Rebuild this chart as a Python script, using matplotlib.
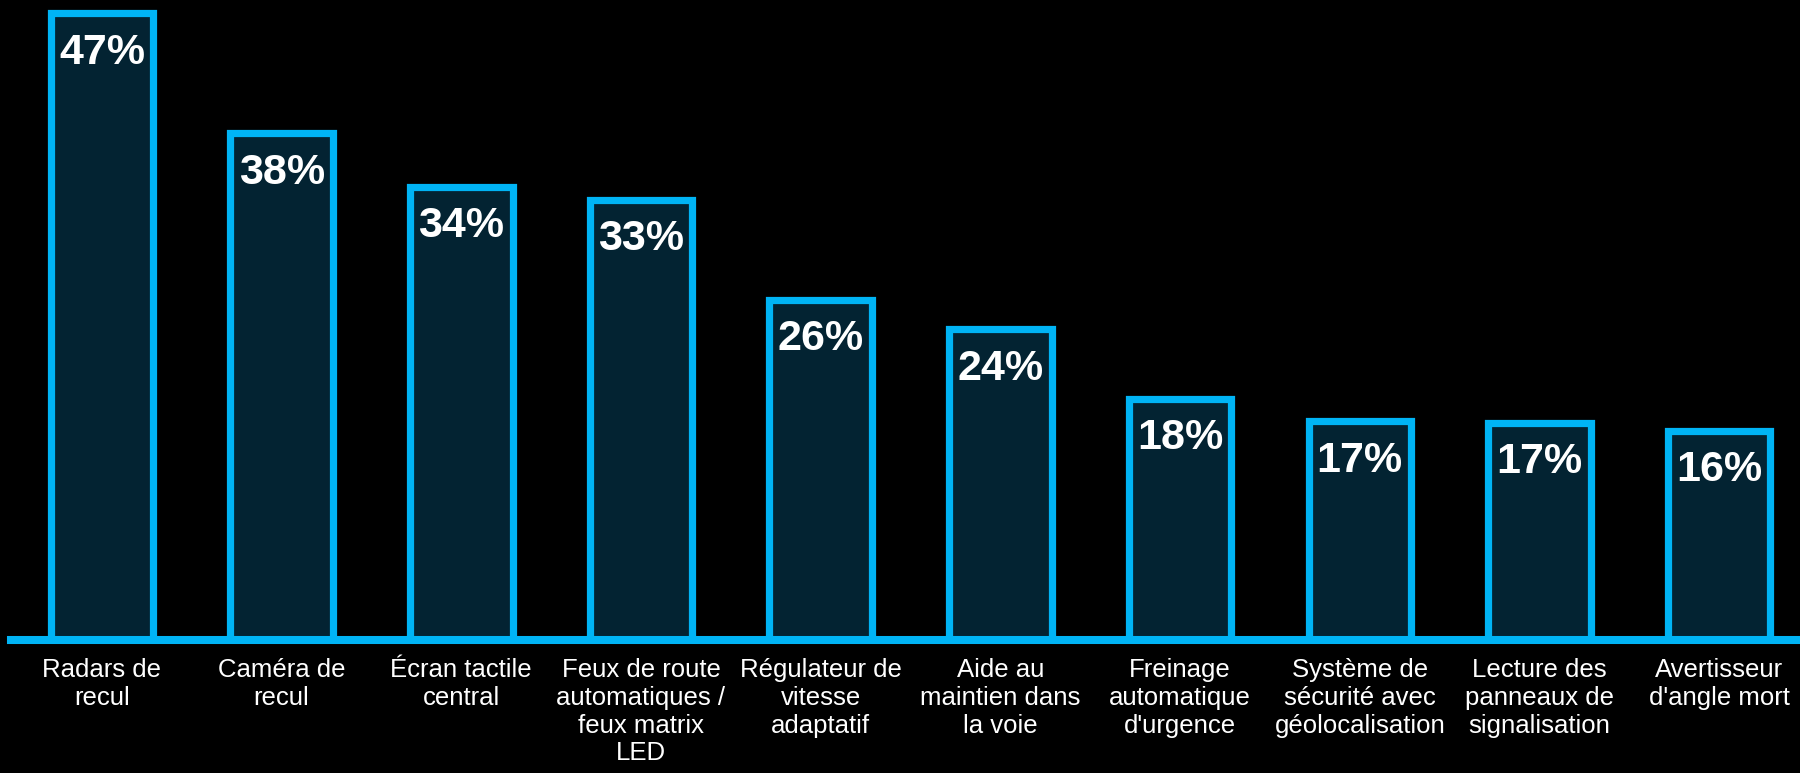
import matplotlib
matplotlib.use('Agg')
import matplotlib.pyplot as plt

labels = ['Radars de\nrecul', 'Caméra de\nrecul', 'Écran tactile\ncentral',
          'Feux de route\nautomatiques /\nfeux matrix\nLED', 'Régulateur de\nvitesse\nadaptatif',
          'Aide au\nmaintien dans\nla voie', 'Freinage\nautomatique\nd\'urgence',
          'Système de\nsécurité avec\ngéolocalisation', 'Lecture des\npanneaux de\nsignalisation',
          'Avertisseur\nd\'angle mort']
# bar heights as drawn (unrounded) and the rounded labels shown on them
values = [47, 38, 34, 33, 25.5, 23.3, 18.1, 16.4, 16.3, 15.7]
pct_labels = ['47%', '38%', '34%', '33%', '26%', '24%', '18%', '17%', '17%', '16%']

edge = '#00B4F5'
face = '#032332'

plt.rcParams['font.family'] = ['Liberation Sans', 'DejaVu Sans']

fig = plt.figure(figsize=(18, 7.73), dpi=100, facecolor='black')
ax = fig.add_axes([0.0061, 0.172, 0.9939, 0.828])
ax.set_facecolor('black')

x = range(len(values))
bars = ax.bar(x, values, width=0.57, color=face, edgecolor=edge, linewidth=5.2, zorder=2)
for b, v, t in zip(bars, values, pct_labels):
    ax.annotate(t, (b.get_x() + b.get_width() / 2, v), xytext=(0, -14),
                textcoords='offset points', ha='center', va='top',
                color='white', fontsize=31, fontweight='bold', zorder=3)

ax.set_xlim(-0.506, 9.45)
ax.set_ylim(0, 48)
ax.set_xticks(list(x))
ax.set_xticklabels(labels, color='white', fontsize=18.5)
ax.tick_params(axis='x', length=0, pad=13)
ax.set_yticks([])
for s in ['top', 'right', 'left']:
    ax.spines[s].set_visible(False)
ax.spines['bottom'].set_color(edge)
ax.spines['bottom'].set_linewidth(5.8)
ax.spines['bottom'].set_zorder(3)

fig.savefig('out.png', facecolor='black')
